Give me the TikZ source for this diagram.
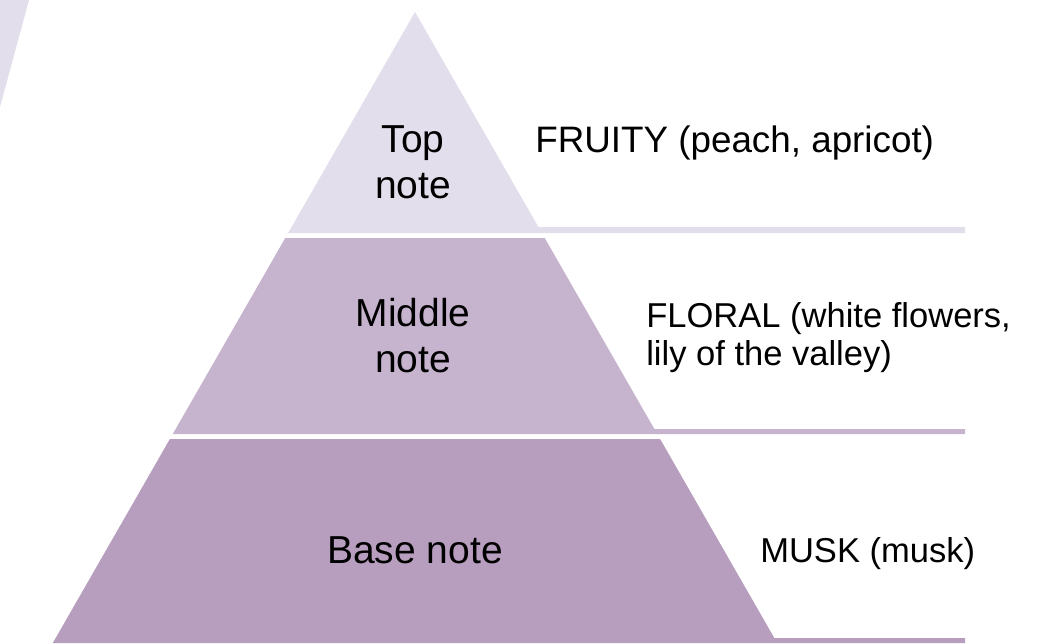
\documentclass[tikz,border=0pt]{standalone}
\usepackage{fontspec}
\setmainfont{Liberation Sans}
\definecolor{noteA}{RGB}{227,222,235}
\definecolor{noteB}{RGB}{198,180,206}
\definecolor{noteC}{RGB}{183,157,190}
\begin{document}
\begin{tikzpicture}[x=0.75pt,y=-0.75pt,line join=round,
  lbl/.style={font=\fontsize{29.25}{34.5}\selectfont,align=center,inner sep=0pt,anchor=base},
  txt/.style={font=\fontsize{25.9}{28.5}\selectfont,align=left,inner sep=0pt,anchor=base west}]

% 参数（像素坐标，y 向下）
\def\cx{415}    % 塔尖 x
\def\ytip{12}   % 塔尖 y
\def\k{0.574}   % 半宽 / 高
\def\xe{965}    % 横条右端

\useasboundingbox (0,0) rectangle (1057,643);

% 左上角浅色三角
\fill[noteA] (0,0) -- (29,0) -- (0,107) -- cycle;

% 三层：层顶 / 横条顶 / 层底 / 颜色
\foreach \ya/\ys/\yb/\col in {12/227/233/noteA, 238/429/434/noteB, 439/638/643/noteC}{
  \pgfmathsetmacro{\xla}{\cx-\k*(\ya-\ytip)}
  \pgfmathsetmacro{\xra}{\cx+\k*(\ya-\ytip)}
  \pgfmathsetmacro{\xrs}{\cx+\k*(\ys-\ytip)}
  \pgfmathsetmacro{\xlb}{\cx-\k*(\yb-\ytip)}
  \fill[\col] (\xla,\ya) -- (\xra,\ya) -- (\xrs,\ys) -- (\xe,\ys) -- (\xe,\yb) -- (\xlb,\yb) -- cycle;
}

% 塔内标签（多行时 base 取末行基线）
\node[lbl] (top) at (413,198) {Top\\note};
\node[lbl] (middle) at (413,372) {Middle\\note};
\node[lbl] (base) at (415,563) {Base note};

% 右侧说明
\node[txt,font=\fontsize{27.6}{28.5}\selectfont] (fruity) at (535,152) {FRUITY (peach, apricot)};
\node[txt] (floral) at (646,365) {FLORAL (white flowers,\\lily of the valley)};
\node[txt] (musk) at (760,562) {MUSK (musk)};

\end{tikzpicture}
\end{document}
